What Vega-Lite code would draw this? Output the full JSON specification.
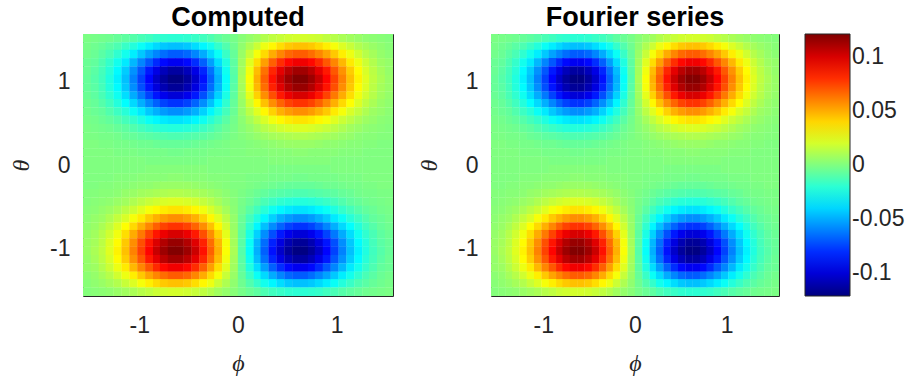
{
"$schema":"https://vega.github.io/schema/vega-lite/v6.json",
"background":"white",
"padding":{"left":9,"top":3,"right":0,"bottom":0},
"datasets":{"g":[
{"x":-1.53,"y":1.52,"v":-0.001},{"x":-1.45,"y":1.52,"v":-0.002},{"x":-1.37,"y":1.52,"v":-0.003},{"x":-1.3,"y":1.52,"v":-0.004},{"x":-1.22,"y":1.52,"v":-0.006},{"x":-1.14,"y":1.52,"v":-0.008},{"x":-1.06,"y":1.52,"v":-0.01},{"x":-0.98,"y":1.52,"v":-0.013},{"x":-0.9,"y":1.52,"v":-0.015},{"x":-0.82,"y":1.52,"v":-0.018},{"x":-0.75,"y":1.52,"v":-0.019},{"x":-0.67,"y":1.52,"v":-0.02},{"x":-0.59,"y":1.52,"v":-0.02},{"x":-0.51,"y":1.52,"v":-0.019},{"x":-0.43,"y":1.52,"v":-0.017},{"x":-0.35,"y":1.52,"v":-0.015},{"x":-0.27,"y":1.52,"v":-0.012},{"x":-0.2,"y":1.52,"v":-0.008},{"x":-0.12,"y":1.52,"v":-0.005},{"x":-0.04,"y":1.52,"v":-0.002},
{"x":0.04,"y":1.52,"v":0.002},{"x":0.12,"y":1.52,"v":0.005},{"x":0.2,"y":1.52,"v":0.008},{"x":0.27,"y":1.52,"v":0.012},{"x":0.35,"y":1.52,"v":0.015},{"x":0.43,"y":1.52,"v":0.017},{"x":0.51,"y":1.52,"v":0.019},{"x":0.59,"y":1.52,"v":0.02},{"x":0.67,"y":1.52,"v":0.02},{"x":0.75,"y":1.52,"v":0.019},{"x":0.82,"y":1.52,"v":0.018},{"x":0.9,"y":1.52,"v":0.015},{"x":0.98,"y":1.52,"v":0.013},{"x":1.06,"y":1.52,"v":0.01},{"x":1.14,"y":1.52,"v":0.008},{"x":1.22,"y":1.52,"v":0.006},{"x":1.3,"y":1.52,"v":0.004},{"x":1.37,"y":1.52,"v":0.003},{"x":1.45,"y":1.52,"v":0.002},{"x":1.53,"y":1.52,"v":0.001},
{"x":-1.53,"y":1.42,"v":-0.002},{"x":-1.45,"y":1.42,"v":-0.004},{"x":-1.37,"y":1.42,"v":-0.006},{"x":-1.3,"y":1.42,"v":-0.009},{"x":-1.22,"y":1.42,"v":-0.012},{"x":-1.14,"y":1.42,"v":-0.017},{"x":-1.06,"y":1.42,"v":-0.022},{"x":-0.98,"y":1.42,"v":-0.028},{"x":-0.9,"y":1.42,"v":-0.034},{"x":-0.82,"y":1.42,"v":-0.039},{"x":-0.75,"y":1.42,"v":-0.043},{"x":-0.67,"y":1.42,"v":-0.045},{"x":-0.59,"y":1.42,"v":-0.045},{"x":-0.51,"y":1.42,"v":-0.043},{"x":-0.43,"y":1.42,"v":-0.038},{"x":-0.35,"y":1.42,"v":-0.032},{"x":-0.27,"y":1.42,"v":-0.026},{"x":-0.2,"y":1.42,"v":-0.018},{"x":-0.12,"y":1.42,"v":-0.011},{"x":-0.04,"y":1.42,"v":-0.004},
{"x":0.04,"y":1.42,"v":0.004},{"x":0.12,"y":1.42,"v":0.011},{"x":0.2,"y":1.42,"v":0.018},{"x":0.27,"y":1.42,"v":0.026},{"x":0.35,"y":1.42,"v":0.032},{"x":0.43,"y":1.42,"v":0.038},{"x":0.51,"y":1.42,"v":0.043},{"x":0.59,"y":1.42,"v":0.045},{"x":0.67,"y":1.42,"v":0.045},{"x":0.75,"y":1.42,"v":0.043},{"x":0.82,"y":1.42,"v":0.039},{"x":0.9,"y":1.42,"v":0.034},{"x":0.98,"y":1.42,"v":0.028},{"x":1.06,"y":1.42,"v":0.022},{"x":1.14,"y":1.42,"v":0.017},{"x":1.22,"y":1.42,"v":0.012},{"x":1.3,"y":1.42,"v":0.009},{"x":1.37,"y":1.42,"v":0.006},{"x":1.45,"y":1.42,"v":0.004},{"x":1.53,"y":1.42,"v":0.002},
{"x":-1.53,"y":1.33,"v":-0.003},{"x":-1.45,"y":1.33,"v":-0.005},{"x":-1.37,"y":1.33,"v":-0.009},{"x":-1.3,"y":1.33,"v":-0.013},{"x":-1.22,"y":1.33,"v":-0.019},{"x":-1.14,"y":1.33,"v":-0.026},{"x":-1.06,"y":1.33,"v":-0.034},{"x":-0.98,"y":1.33,"v":-0.043},{"x":-0.9,"y":1.33,"v":-0.052},{"x":-0.82,"y":1.33,"v":-0.059},{"x":-0.75,"y":1.33,"v":-0.065},{"x":-0.67,"y":1.33,"v":-0.069},{"x":-0.59,"y":1.33,"v":-0.069},{"x":-0.51,"y":1.33,"v":-0.066},{"x":-0.43,"y":1.33,"v":-0.059},{"x":-0.35,"y":1.33,"v":-0.05},{"x":-0.27,"y":1.33,"v":-0.039},{"x":-0.2,"y":1.33,"v":-0.028},{"x":-0.12,"y":1.33,"v":-0.017},{"x":-0.04,"y":1.33,"v":-0.006},
{"x":0.04,"y":1.33,"v":0.006},{"x":0.12,"y":1.33,"v":0.017},{"x":0.2,"y":1.33,"v":0.028},{"x":0.27,"y":1.33,"v":0.039},{"x":0.35,"y":1.33,"v":0.05},{"x":0.43,"y":1.33,"v":0.059},{"x":0.51,"y":1.33,"v":0.066},{"x":0.59,"y":1.33,"v":0.069},{"x":0.67,"y":1.33,"v":0.069},{"x":0.75,"y":1.33,"v":0.065},{"x":0.82,"y":1.33,"v":0.059},{"x":0.9,"y":1.33,"v":0.052},{"x":0.98,"y":1.33,"v":0.043},{"x":1.06,"y":1.33,"v":0.034},{"x":1.14,"y":1.33,"v":0.026},{"x":1.22,"y":1.33,"v":0.019},{"x":1.3,"y":1.33,"v":0.013},{"x":1.37,"y":1.33,"v":0.009},{"x":1.45,"y":1.33,"v":0.005},{"x":1.53,"y":1.33,"v":0.003},
{"x":-1.53,"y":1.23,"v":-0.005},{"x":-1.45,"y":1.23,"v":-0.007},{"x":-1.37,"y":1.23,"v":-0.012},{"x":-1.3,"y":1.23,"v":-0.018},{"x":-1.22,"y":1.23,"v":-0.026},{"x":-1.14,"y":1.23,"v":-0.035},{"x":-1.06,"y":1.23,"v":-0.047},{"x":-0.98,"y":1.23,"v":-0.059},{"x":-0.9,"y":1.23,"v":-0.07},{"x":-0.82,"y":1.23,"v":-0.081},{"x":-0.75,"y":1.23,"v":-0.089},{"x":-0.67,"y":1.23,"v":-0.094},{"x":-0.59,"y":1.23,"v":-0.094},{"x":-0.51,"y":1.23,"v":-0.089},{"x":-0.43,"y":1.23,"v":-0.08},{"x":-0.35,"y":1.23,"v":-0.068},{"x":-0.27,"y":1.23,"v":-0.053},{"x":-0.2,"y":1.23,"v":-0.038},{"x":-0.12,"y":1.23,"v":-0.023},{"x":-0.04,"y":1.23,"v":-0.008},
{"x":0.04,"y":1.23,"v":0.008},{"x":0.12,"y":1.23,"v":0.023},{"x":0.2,"y":1.23,"v":0.038},{"x":0.27,"y":1.23,"v":0.053},{"x":0.35,"y":1.23,"v":0.068},{"x":0.43,"y":1.23,"v":0.08},{"x":0.51,"y":1.23,"v":0.089},{"x":0.59,"y":1.23,"v":0.094},{"x":0.67,"y":1.23,"v":0.094},{"x":0.75,"y":1.23,"v":0.089},{"x":0.82,"y":1.23,"v":0.081},{"x":0.9,"y":1.23,"v":0.07},{"x":0.98,"y":1.23,"v":0.059},{"x":1.06,"y":1.23,"v":0.047},{"x":1.14,"y":1.23,"v":0.035},{"x":1.22,"y":1.23,"v":0.026},{"x":1.3,"y":1.23,"v":0.018},{"x":1.37,"y":1.23,"v":0.012},{"x":1.45,"y":1.23,"v":0.007},{"x":1.53,"y":1.23,"v":0.005},
{"x":-1.53,"y":1.13,"v":-0.005},{"x":-1.45,"y":1.13,"v":-0.009},{"x":-1.37,"y":1.13,"v":-0.014},{"x":-1.3,"y":1.13,"v":-0.021},{"x":-1.22,"y":1.13,"v":-0.031},{"x":-1.14,"y":1.13,"v":-0.042},{"x":-1.06,"y":1.13,"v":-0.056},{"x":-0.98,"y":1.13,"v":-0.07},{"x":-0.9,"y":1.13,"v":-0.085},{"x":-0.82,"y":1.13,"v":-0.097},{"x":-0.75,"y":1.13,"v":-0.107},{"x":-0.67,"y":1.13,"v":-0.113},{"x":-0.59,"y":1.13,"v":-0.113},{"x":-0.51,"y":1.13,"v":-0.107},{"x":-0.43,"y":1.13,"v":-0.097},{"x":-0.35,"y":1.13,"v":-0.082},{"x":-0.27,"y":1.13,"v":-0.064},{"x":-0.2,"y":1.13,"v":-0.046},{"x":-0.12,"y":1.13,"v":-0.027},{"x":-0.04,"y":1.13,"v":-0.009},
{"x":0.04,"y":1.13,"v":0.009},{"x":0.12,"y":1.13,"v":0.027},{"x":0.2,"y":1.13,"v":0.046},{"x":0.27,"y":1.13,"v":0.064},{"x":0.35,"y":1.13,"v":0.082},{"x":0.43,"y":1.13,"v":0.097},{"x":0.51,"y":1.13,"v":0.107},{"x":0.59,"y":1.13,"v":0.113},{"x":0.67,"y":1.13,"v":0.113},{"x":0.75,"y":1.13,"v":0.107},{"x":0.82,"y":1.13,"v":0.097},{"x":0.9,"y":1.13,"v":0.085},{"x":0.98,"y":1.13,"v":0.07},{"x":1.06,"y":1.13,"v":0.056},{"x":1.14,"y":1.13,"v":0.042},{"x":1.22,"y":1.13,"v":0.031},{"x":1.3,"y":1.13,"v":0.021},{"x":1.37,"y":1.13,"v":0.014},{"x":1.45,"y":1.13,"v":0.009},{"x":1.53,"y":1.13,"v":0.005},
{"x":-1.53,"y":1.03,"v":-0.006},{"x":-1.45,"y":1.03,"v":-0.01},{"x":-1.37,"y":1.03,"v":-0.015},{"x":-1.3,"y":1.03,"v":-0.023},{"x":-1.22,"y":1.03,"v":-0.033},{"x":-1.14,"y":1.03,"v":-0.045},{"x":-1.06,"y":1.03,"v":-0.06},{"x":-0.98,"y":1.03,"v":-0.075},{"x":-0.9,"y":1.03,"v":-0.09},{"x":-0.82,"y":1.03,"v":-0.104},{"x":-0.75,"y":1.03,"v":-0.114},{"x":-0.67,"y":1.03,"v":-0.12},{"x":-0.59,"y":1.03,"v":-0.12},{"x":-0.51,"y":1.03,"v":-0.114},{"x":-0.43,"y":1.03,"v":-0.103},{"x":-0.35,"y":1.03,"v":-0.087},{"x":-0.27,"y":1.03,"v":-0.068},{"x":-0.2,"y":1.03,"v":-0.049},{"x":-0.12,"y":1.03,"v":-0.029},{"x":-0.04,"y":1.03,"v":-0.01},
{"x":0.04,"y":1.03,"v":0.01},{"x":0.12,"y":1.03,"v":0.029},{"x":0.2,"y":1.03,"v":0.049},{"x":0.27,"y":1.03,"v":0.068},{"x":0.35,"y":1.03,"v":0.087},{"x":0.43,"y":1.03,"v":0.103},{"x":0.51,"y":1.03,"v":0.114},{"x":0.59,"y":1.03,"v":0.12},{"x":0.67,"y":1.03,"v":0.12},{"x":0.75,"y":1.03,"v":0.114},{"x":0.82,"y":1.03,"v":0.104},{"x":0.9,"y":1.03,"v":0.09},{"x":0.98,"y":1.03,"v":0.075},{"x":1.06,"y":1.03,"v":0.06},{"x":1.14,"y":1.03,"v":0.045},{"x":1.22,"y":1.03,"v":0.033},{"x":1.3,"y":1.03,"v":0.023},{"x":1.37,"y":1.03,"v":0.015},{"x":1.45,"y":1.03,"v":0.01},{"x":1.53,"y":1.03,"v":0.006},
{"x":-1.53,"y":0.93,"v":-0.006},{"x":-1.45,"y":0.93,"v":-0.009},{"x":-1.37,"y":0.93,"v":-0.014},{"x":-1.3,"y":0.93,"v":-0.022},{"x":-1.22,"y":0.93,"v":-0.031},{"x":-1.14,"y":0.93,"v":-0.043},{"x":-1.06,"y":0.93,"v":-0.057},{"x":-0.98,"y":0.93,"v":-0.072},{"x":-0.9,"y":0.93,"v":-0.086},{"x":-0.82,"y":0.93,"v":-0.099},{"x":-0.75,"y":0.93,"v":-0.109},{"x":-0.67,"y":0.93,"v":-0.115},{"x":-0.59,"y":0.93,"v":-0.115},{"x":-0.51,"y":0.93,"v":-0.109},{"x":-0.43,"y":0.93,"v":-0.098},{"x":-0.35,"y":0.93,"v":-0.083},{"x":-0.27,"y":0.93,"v":-0.065},{"x":-0.2,"y":0.93,"v":-0.047},{"x":-0.12,"y":0.93,"v":-0.028},{"x":-0.04,"y":0.93,"v":-0.009},
{"x":0.04,"y":0.93,"v":0.009},{"x":0.12,"y":0.93,"v":0.028},{"x":0.2,"y":0.93,"v":0.047},{"x":0.27,"y":0.93,"v":0.065},{"x":0.35,"y":0.93,"v":0.083},{"x":0.43,"y":0.93,"v":0.098},{"x":0.51,"y":0.93,"v":0.109},{"x":0.59,"y":0.93,"v":0.115},{"x":0.67,"y":0.93,"v":0.115},{"x":0.75,"y":0.93,"v":0.109},{"x":0.82,"y":0.93,"v":0.099},{"x":0.9,"y":0.93,"v":0.086},{"x":0.98,"y":0.93,"v":0.072},{"x":1.06,"y":0.93,"v":0.057},{"x":1.14,"y":0.93,"v":0.043},{"x":1.22,"y":0.93,"v":0.031},{"x":1.3,"y":0.93,"v":0.022},{"x":1.37,"y":0.93,"v":0.014},{"x":1.45,"y":0.93,"v":0.009},{"x":1.53,"y":0.93,"v":0.006},
{"x":-1.53,"y":0.83,"v":-0.005},{"x":-1.45,"y":0.83,"v":-0.008},{"x":-1.37,"y":0.83,"v":-0.013},{"x":-1.3,"y":0.83,"v":-0.019},{"x":-1.22,"y":0.83,"v":-0.027},{"x":-1.14,"y":0.83,"v":-0.038},{"x":-1.06,"y":0.83,"v":-0.05},{"x":-0.98,"y":0.83,"v":-0.062},{"x":-0.9,"y":0.83,"v":-0.075},{"x":-0.82,"y":0.83,"v":-0.086},{"x":-0.75,"y":0.83,"v":-0.095},{"x":-0.67,"y":0.83,"v":-0.1},{"x":-0.59,"y":0.83,"v":-0.1},{"x":-0.51,"y":0.83,"v":-0.095},{"x":-0.43,"y":0.83,"v":-0.085},{"x":-0.35,"y":0.83,"v":-0.072},{"x":-0.27,"y":0.83,"v":-0.057},{"x":-0.2,"y":0.83,"v":-0.041},{"x":-0.12,"y":0.83,"v":-0.024},{"x":-0.04,"y":0.83,"v":-0.008},
{"x":0.04,"y":0.83,"v":0.008},{"x":0.12,"y":0.83,"v":0.024},{"x":0.2,"y":0.83,"v":0.041},{"x":0.27,"y":0.83,"v":0.057},{"x":0.35,"y":0.83,"v":0.072},{"x":0.43,"y":0.83,"v":0.085},{"x":0.51,"y":0.83,"v":0.095},{"x":0.59,"y":0.83,"v":0.1},{"x":0.67,"y":0.83,"v":0.1},{"x":0.75,"y":0.83,"v":0.095},{"x":0.82,"y":0.83,"v":0.086},{"x":0.9,"y":0.83,"v":0.075},{"x":0.98,"y":0.83,"v":0.062},{"x":1.06,"y":0.83,"v":0.05},{"x":1.14,"y":0.83,"v":0.038},{"x":1.22,"y":0.83,"v":0.027},{"x":1.3,"y":0.83,"v":0.019},{"x":1.37,"y":0.83,"v":0.013},{"x":1.45,"y":0.83,"v":0.008},{"x":1.53,"y":0.83,"v":0.005},
{"x":-1.53,"y":0.74,"v":-0.004},{"x":-1.45,"y":0.74,"v":-0.006},{"x":-1.37,"y":0.74,"v":-0.01},{"x":-1.3,"y":0.74,"v":-0.015},{"x":-1.22,"y":0.74,"v":-0.022},{"x":-1.14,"y":0.74,"v":-0.03},{"x":-1.06,"y":0.74,"v":-0.039},{"x":-0.98,"y":0.74,"v":-0.049},{"x":-0.9,"y":0.74,"v":-0.059},{"x":-0.82,"y":0.74,"v":-0.068},{"x":-0.75,"y":0.74,"v":-0.075},{"x":-0.67,"y":0.74,"v":-0.079},{"x":-0.59,"y":0.74,"v":-0.079},{"x":-0.51,"y":0.74,"v":-0.075},{"x":-0.43,"y":0.74,"v":-0.067},{"x":-0.35,"y":0.74,"v":-0.057},{"x":-0.27,"y":0.74,"v":-0.045},{"x":-0.2,"y":0.74,"v":-0.032},{"x":-0.12,"y":0.74,"v":-0.019},{"x":-0.04,"y":0.74,"v":-0.006},
{"x":0.04,"y":0.74,"v":0.006},{"x":0.12,"y":0.74,"v":0.019},{"x":0.2,"y":0.74,"v":0.032},{"x":0.27,"y":0.74,"v":0.045},{"x":0.35,"y":0.74,"v":0.057},{"x":0.43,"y":0.74,"v":0.067},{"x":0.51,"y":0.74,"v":0.075},{"x":0.59,"y":0.74,"v":0.079},{"x":0.67,"y":0.74,"v":0.079},{"x":0.75,"y":0.74,"v":0.075},{"x":0.82,"y":0.74,"v":0.068},{"x":0.9,"y":0.74,"v":0.059},{"x":0.98,"y":0.74,"v":0.049},{"x":1.06,"y":0.74,"v":0.039},{"x":1.14,"y":0.74,"v":0.03},{"x":1.22,"y":0.74,"v":0.022},{"x":1.3,"y":0.74,"v":0.015},{"x":1.37,"y":0.74,"v":0.01},{"x":1.45,"y":0.74,"v":0.006},{"x":1.53,"y":0.74,"v":0.004},
{"x":-1.53,"y":0.64,"v":-0.003},{"x":-1.45,"y":0.64,"v":-0.005},{"x":-1.37,"y":0.64,"v":-0.007},{"x":-1.3,"y":0.64,"v":-0.011},{"x":-1.22,"y":0.64,"v":-0.016},{"x":-1.14,"y":0.64,"v":-0.021},{"x":-1.06,"y":0.64,"v":-0.028},{"x":-0.98,"y":0.64,"v":-0.035},{"x":-0.9,"y":0.64,"v":-0.043},{"x":-0.82,"y":0.64,"v":-0.049},{"x":-0.75,"y":0.64,"v":-0.054},{"x":-0.67,"y":0.64,"v":-0.057},{"x":-0.59,"y":0.64,"v":-0.057},{"x":-0.51,"y":0.64,"v":-0.054},{"x":-0.43,"y":0.64,"v":-0.049},{"x":-0.35,"y":0.64,"v":-0.041},{"x":-0.27,"y":0.64,"v":-0.032},{"x":-0.2,"y":0.64,"v":-0.023},{"x":-0.12,"y":0.64,"v":-0.014},{"x":-0.04,"y":0.64,"v":-0.005},
{"x":0.04,"y":0.64,"v":0.005},{"x":0.12,"y":0.64,"v":0.014},{"x":0.2,"y":0.64,"v":0.023},{"x":0.27,"y":0.64,"v":0.032},{"x":0.35,"y":0.64,"v":0.041},{"x":0.43,"y":0.64,"v":0.049},{"x":0.51,"y":0.64,"v":0.054},{"x":0.59,"y":0.64,"v":0.057},{"x":0.67,"y":0.64,"v":0.057},{"x":0.75,"y":0.64,"v":0.054},{"x":0.82,"y":0.64,"v":0.049},{"x":0.9,"y":0.64,"v":0.043},{"x":0.98,"y":0.64,"v":0.035},{"x":1.06,"y":0.64,"v":0.028},{"x":1.14,"y":0.64,"v":0.021},{"x":1.22,"y":0.64,"v":0.016},{"x":1.3,"y":0.64,"v":0.011},{"x":1.37,"y":0.64,"v":0.007},{"x":1.45,"y":0.64,"v":0.005},{"x":1.53,"y":0.64,"v":0.003},
{"x":-1.53,"y":0.54,"v":-0.002},{"x":-1.45,"y":0.54,"v":-0.003},{"x":-1.37,"y":0.54,"v":-0.005},{"x":-1.3,"y":0.54,"v":-0.007},{"x":-1.22,"y":0.54,"v":-0.01},{"x":-1.14,"y":0.54,"v":-0.014},{"x":-1.06,"y":0.54,"v":-0.018},{"x":-0.98,"y":0.54,"v":-0.023},{"x":-0.9,"y":0.54,"v":-0.028},{"x":-0.82,"y":0.54,"v":-0.032},{"x":-0.75,"y":0.54,"v":-0.035},{"x":-0.67,"y":0.54,"v":-0.037},{"x":-0.59,"y":0.54,"v":-0.037},{"x":-0.51,"y":0.54,"v":-0.035},{"x":-0.43,"y":0.54,"v":-0.032},{"x":-0.35,"y":0.54,"v":-0.027},{"x":-0.27,"y":0.54,"v":-0.021},{"x":-0.2,"y":0.54,"v":-0.015},{"x":-0.12,"y":0.54,"v":-0.009},{"x":-0.04,"y":0.54,"v":-0.003},
{"x":0.04,"y":0.54,"v":0.003},{"x":0.12,"y":0.54,"v":0.009},{"x":0.2,"y":0.54,"v":0.015},{"x":0.27,"y":0.54,"v":0.021},{"x":0.35,"y":0.54,"v":0.027},{"x":0.43,"y":0.54,"v":0.032},{"x":0.51,"y":0.54,"v":0.035},{"x":0.59,"y":0.54,"v":0.037},{"x":0.67,"y":0.54,"v":0.037},{"x":0.75,"y":0.54,"v":0.035},{"x":0.82,"y":0.54,"v":0.032},{"x":0.9,"y":0.54,"v":0.028},{"x":0.98,"y":0.54,"v":0.023},{"x":1.06,"y":0.54,"v":0.018},{"x":1.14,"y":0.54,"v":0.014},{"x":1.22,"y":0.54,"v":0.01},{"x":1.3,"y":0.54,"v":0.007},{"x":1.37,"y":0.54,"v":0.005},{"x":1.45,"y":0.54,"v":0.003},{"x":1.53,"y":0.54,"v":0.002},
{"x":-1.53,"y":0.44,"v":-0.001},{"x":-1.45,"y":0.44,"v":-0.002},{"x":-1.37,"y":0.44,"v":-0.003},{"x":-1.3,"y":0.44,"v":-0.004},{"x":-1.22,"y":0.44,"v":-0.006},{"x":-1.14,"y":0.44,"v":-0.008},{"x":-1.06,"y":0.44,"v":-0.011},{"x":-0.98,"y":0.44,"v":-0.014},{"x":-0.9,"y":0.44,"v":-0.017},{"x":-0.82,"y":0.44,"v":-0.019},{"x":-0.75,"y":0.44,"v":-0.021},{"x":-0.67,"y":0.44,"v":-0.022},{"x":-0.59,"y":0.44,"v":-0.022},{"x":-0.51,"y":0.44,"v":-0.021},{"x":-0.43,"y":0.44,"v":-0.019},{"x":-0.35,"y":0.44,"v":-0.016},{"x":-0.27,"y":0.44,"v":-0.013},{"x":-0.2,"y":0.44,"v":-0.009},{"x":-0.12,"y":0.44,"v":-0.005},{"x":-0.04,"y":0.44,"v":-0.002},
{"x":0.04,"y":0.44,"v":0.002},{"x":0.12,"y":0.44,"v":0.005},{"x":0.2,"y":0.44,"v":0.009},{"x":0.27,"y":0.44,"v":0.013},{"x":0.35,"y":0.44,"v":0.016},{"x":0.43,"y":0.44,"v":0.019},{"x":0.51,"y":0.44,"v":0.021},{"x":0.59,"y":0.44,"v":0.022},{"x":0.67,"y":0.44,"v":0.022},{"x":0.75,"y":0.44,"v":0.021},{"x":0.82,"y":0.44,"v":0.019},{"x":0.9,"y":0.44,"v":0.017},{"x":0.98,"y":0.44,"v":0.014},{"x":1.06,"y":0.44,"v":0.011},{"x":1.14,"y":0.44,"v":0.008},{"x":1.22,"y":0.44,"v":0.006},{"x":1.3,"y":0.44,"v":0.004},{"x":1.37,"y":0.44,"v":0.003},{"x":1.45,"y":0.44,"v":0.002},{"x":1.53,"y":0.44,"v":0.001},
{"x":-1.53,"y":0.34,"v":-0.001},{"x":-1.45,"y":0.34,"v":-0.001},{"x":-1.37,"y":0.34,"v":-0.002},{"x":-1.3,"y":0.34,"v":-0.002},{"x":-1.22,"y":0.34,"v":-0.003},{"x":-1.14,"y":0.34,"v":-0.005},{"x":-1.06,"y":0.34,"v":-0.006},{"x":-0.98,"y":0.34,"v":-0.008},{"x":-0.9,"y":0.34,"v":-0.009},{"x":-0.82,"y":0.34,"v":-0.01},{"x":-0.75,"y":0.34,"v":-0.011},{"x":-0.67,"y":0.34,"v":-0.012},{"x":-0.59,"y":0.34,"v":-0.012},{"x":-0.51,"y":0.34,"v":-0.011},{"x":-0.43,"y":0.34,"v":-0.01},{"x":-0.35,"y":0.34,"v":-0.009},{"x":-0.27,"y":0.34,"v":-0.007},{"x":-0.2,"y":0.34,"v":-0.005},{"x":-0.12,"y":0.34,"v":-0.003},{"x":-0.04,"y":0.34,"v":-0.001},
{"x":0.04,"y":0.34,"v":0.001},{"x":0.12,"y":0.34,"v":0.003},{"x":0.2,"y":0.34,"v":0.005},{"x":0.27,"y":0.34,"v":0.007},{"x":0.35,"y":0.34,"v":0.009},{"x":0.43,"y":0.34,"v":0.01},{"x":0.51,"y":0.34,"v":0.011},{"x":0.59,"y":0.34,"v":0.012},{"x":0.67,"y":0.34,"v":0.012},{"x":0.75,"y":0.34,"v":0.011},{"x":0.82,"y":0.34,"v":0.01},{"x":0.9,"y":0.34,"v":0.009},{"x":0.98,"y":0.34,"v":0.008},{"x":1.06,"y":0.34,"v":0.006},{"x":1.14,"y":0.34,"v":0.005},{"x":1.22,"y":0.34,"v":0.003},{"x":1.3,"y":0.34,"v":0.002},{"x":1.37,"y":0.34,"v":0.002},{"x":1.45,"y":0.34,"v":0.001},{"x":1.53,"y":0.34,"v":0.001},
{"x":-1.53,"y":0.25,"v":0},{"x":-1.45,"y":0.25,"v":0},{"x":-1.37,"y":0.25,"v":-0.001},{"x":-1.3,"y":0.25,"v":-0.001},{"x":-1.22,"y":0.25,"v":-0.002},{"x":-1.14,"y":0.25,"v":-0.002},{"x":-1.06,"y":0.25,"v":-0.003},{"x":-0.98,"y":0.25,"v":-0.004},{"x":-0.9,"y":0.25,"v":-0.004},{"x":-0.82,"y":0.25,"v":-0.005},{"x":-0.75,"y":0.25,"v":-0.006},{"x":-0.67,"y":0.25,"v":-0.006},{"x":-0.59,"y":0.25,"v":-0.006},{"x":-0.51,"y":0.25,"v":-0.006},{"x":-0.43,"y":0.25,"v":-0.005},{"x":-0.35,"y":0.25,"v":-0.004},{"x":-0.27,"y":0.25,"v":-0.003},{"x":-0.2,"y":0.25,"v":-0.002},{"x":-0.12,"y":0.25,"v":-0.001},{"x":-0.04,"y":0.25,"v":0},
{"x":0.04,"y":0.25,"v":0},{"x":0.12,"y":0.25,"v":0.001},{"x":0.2,"y":0.25,"v":0.002},{"x":0.27,"y":0.25,"v":0.003},{"x":0.35,"y":0.25,"v":0.004},{"x":0.43,"y":0.25,"v":0.005},{"x":0.51,"y":0.25,"v":0.006},{"x":0.59,"y":0.25,"v":0.006},{"x":0.67,"y":0.25,"v":0.006},{"x":0.75,"y":0.25,"v":0.006},{"x":0.82,"y":0.25,"v":0.005},{"x":0.9,"y":0.25,"v":0.004},{"x":0.98,"y":0.25,"v":0.004},{"x":1.06,"y":0.25,"v":0.003},{"x":1.14,"y":0.25,"v":0.002},{"x":1.22,"y":0.25,"v":0.002},{"x":1.3,"y":0.25,"v":0.001},{"x":1.37,"y":0.25,"v":0.001},{"x":1.45,"y":0.25,"v":0},{"x":1.53,"y":0.25,"v":0},
{"x":-1.53,"y":0.15,"v":0},{"x":-1.45,"y":0.15,"v":0},{"x":-1.37,"y":0.15,"v":0},{"x":-1.3,"y":0.15,"v":0},{"x":-1.22,"y":0.15,"v":-0.001},{"x":-1.14,"y":0.15,"v":-0.001},{"x":-1.06,"y":0.15,"v":-0.001},{"x":-0.98,"y":0.15,"v":-0.002},{"x":-0.9,"y":0.15,"v":-0.002},{"x":-0.82,"y":0.15,"v":-0.002},{"x":-0.75,"y":0.15,"v":-0.002},{"x":-0.67,"y":0.15,"v":-0.003},{"x":-0.59,"y":0.15,"v":-0.003},{"x":-0.51,"y":0.15,"v":-0.002},{"x":-0.43,"y":0.15,"v":-0.002},{"x":-0.35,"y":0.15,"v":-0.002},{"x":-0.27,"y":0.15,"v":-0.001},{"x":-0.2,"y":0.15,"v":-0.001},{"x":-0.12,"y":0.15,"v":-0.001},{"x":-0.04,"y":0.15,"v":0},
{"x":0.04,"y":0.15,"v":0},{"x":0.12,"y":0.15,"v":0.001},{"x":0.2,"y":0.15,"v":0.001},{"x":0.27,"y":0.15,"v":0.001},{"x":0.35,"y":0.15,"v":0.002},{"x":0.43,"y":0.15,"v":0.002},{"x":0.51,"y":0.15,"v":0.002},{"x":0.59,"y":0.15,"v":0.003},{"x":0.67,"y":0.15,"v":0.003},{"x":0.75,"y":0.15,"v":0.002},{"x":0.82,"y":0.15,"v":0.002},{"x":0.9,"y":0.15,"v":0.002},{"x":0.98,"y":0.15,"v":0.002},{"x":1.06,"y":0.15,"v":0.001},{"x":1.14,"y":0.15,"v":0.001},{"x":1.22,"y":0.15,"v":0.001},{"x":1.3,"y":0.15,"v":0},{"x":1.37,"y":0.15,"v":0},{"x":1.45,"y":0.15,"v":0},{"x":1.53,"y":0.15,"v":0},
{"x":-1.53,"y":0.05,"v":0},{"x":-1.45,"y":0.05,"v":0},{"x":-1.37,"y":0.05,"v":0},{"x":-1.3,"y":0.05,"v":0},{"x":-1.22,"y":0.05,"v":0},{"x":-1.14,"y":0.05,"v":0},{"x":-1.06,"y":0.05,"v":0},{"x":-0.98,"y":0.05,"v":0},{"x":-0.9,"y":0.05,"v":-0.001},{"x":-0.82,"y":0.05,"v":-0.001},{"x":-0.75,"y":0.05,"v":-0.001},{"x":-0.67,"y":0.05,"v":-0.001},{"x":-0.59,"y":0.05,"v":-0.001},{"x":-0.51,"y":0.05,"v":-0.001},{"x":-0.43,"y":0.05,"v":-0.001},{"x":-0.35,"y":0.05,"v":-0.001},{"x":-0.27,"y":0.05,"v":0},{"x":-0.2,"y":0.05,"v":0},{"x":-0.12,"y":0.05,"v":0},{"x":-0.04,"y":0.05,"v":0},
{"x":0.04,"y":0.05,"v":0},{"x":0.12,"y":0.05,"v":0},{"x":0.2,"y":0.05,"v":0},{"x":0.27,"y":0.05,"v":0},{"x":0.35,"y":0.05,"v":0.001},{"x":0.43,"y":0.05,"v":0.001},{"x":0.51,"y":0.05,"v":0.001},{"x":0.59,"y":0.05,"v":0.001},{"x":0.67,"y":0.05,"v":0.001},{"x":0.75,"y":0.05,"v":0.001},{"x":0.82,"y":0.05,"v":0.001},{"x":0.9,"y":0.05,"v":0.001},{"x":0.98,"y":0.05,"v":0},{"x":1.06,"y":0.05,"v":0},{"x":1.14,"y":0.05,"v":0},{"x":1.22,"y":0.05,"v":0},{"x":1.3,"y":0.05,"v":0},{"x":1.37,"y":0.05,"v":0},{"x":1.45,"y":0.05,"v":0},{"x":1.53,"y":0.05,"v":0},
{"x":-1.53,"y":-0.05,"v":0},{"x":-1.45,"y":-0.05,"v":0},{"x":-1.37,"y":-0.05,"v":0},{"x":-1.3,"y":-0.05,"v":0},{"x":-1.22,"y":-0.05,"v":0},{"x":-1.14,"y":-0.05,"v":0},{"x":-1.06,"y":-0.05,"v":0},{"x":-0.98,"y":-0.05,"v":0},{"x":-0.9,"y":-0.05,"v":0.001},{"x":-0.82,"y":-0.05,"v":0.001},{"x":-0.75,"y":-0.05,"v":0.001},{"x":-0.67,"y":-0.05,"v":0.001},{"x":-0.59,"y":-0.05,"v":0.001},{"x":-0.51,"y":-0.05,"v":0.001},{"x":-0.43,"y":-0.05,"v":0.001},{"x":-0.35,"y":-0.05,"v":0.001},{"x":-0.27,"y":-0.05,"v":0},{"x":-0.2,"y":-0.05,"v":0},{"x":-0.12,"y":-0.05,"v":0},{"x":-0.04,"y":-0.05,"v":0},
{"x":0.04,"y":-0.05,"v":0},{"x":0.12,"y":-0.05,"v":0},{"x":0.2,"y":-0.05,"v":0},{"x":0.27,"y":-0.05,"v":0},{"x":0.35,"y":-0.05,"v":-0.001},{"x":0.43,"y":-0.05,"v":-0.001},{"x":0.51,"y":-0.05,"v":-0.001},{"x":0.59,"y":-0.05,"v":-0.001},{"x":0.67,"y":-0.05,"v":-0.001},{"x":0.75,"y":-0.05,"v":-0.001},{"x":0.82,"y":-0.05,"v":-0.001},{"x":0.9,"y":-0.05,"v":-0.001},{"x":0.98,"y":-0.05,"v":0},{"x":1.06,"y":-0.05,"v":0},{"x":1.14,"y":-0.05,"v":0},{"x":1.22,"y":-0.05,"v":0},{"x":1.3,"y":-0.05,"v":0},{"x":1.37,"y":-0.05,"v":0},{"x":1.45,"y":-0.05,"v":0},{"x":1.53,"y":-0.05,"v":0},
{"x":-1.53,"y":-0.15,"v":0},{"x":-1.45,"y":-0.15,"v":0},{"x":-1.37,"y":-0.15,"v":0},{"x":-1.3,"y":-0.15,"v":0},{"x":-1.22,"y":-0.15,"v":0.001},{"x":-1.14,"y":-0.15,"v":0.001},{"x":-1.06,"y":-0.15,"v":0.001},{"x":-0.98,"y":-0.15,"v":0.002},{"x":-0.9,"y":-0.15,"v":0.002},{"x":-0.82,"y":-0.15,"v":0.002},{"x":-0.75,"y":-0.15,"v":0.002},{"x":-0.67,"y":-0.15,"v":0.003},{"x":-0.59,"y":-0.15,"v":0.003},{"x":-0.51,"y":-0.15,"v":0.002},{"x":-0.43,"y":-0.15,"v":0.002},{"x":-0.35,"y":-0.15,"v":0.002},{"x":-0.27,"y":-0.15,"v":0.001},{"x":-0.2,"y":-0.15,"v":0.001},{"x":-0.12,"y":-0.15,"v":0.001},{"x":-0.04,"y":-0.15,"v":0},
{"x":0.04,"y":-0.15,"v":0},{"x":0.12,"y":-0.15,"v":-0.001},{"x":0.2,"y":-0.15,"v":-0.001},{"x":0.27,"y":-0.15,"v":-0.001},{"x":0.35,"y":-0.15,"v":-0.002},{"x":0.43,"y":-0.15,"v":-0.002},{"x":0.51,"y":-0.15,"v":-0.002},{"x":0.59,"y":-0.15,"v":-0.003},{"x":0.67,"y":-0.15,"v":-0.003},{"x":0.75,"y":-0.15,"v":-0.002},{"x":0.82,"y":-0.15,"v":-0.002},{"x":0.9,"y":-0.15,"v":-0.002},{"x":0.98,"y":-0.15,"v":-0.002},{"x":1.06,"y":-0.15,"v":-0.001},{"x":1.14,"y":-0.15,"v":-0.001},{"x":1.22,"y":-0.15,"v":-0.001},{"x":1.3,"y":-0.15,"v":0},{"x":1.37,"y":-0.15,"v":0},{"x":1.45,"y":-0.15,"v":0},{"x":1.53,"y":-0.15,"v":0},
{"x":-1.53,"y":-0.25,"v":0},{"x":-1.45,"y":-0.25,"v":0},{"x":-1.37,"y":-0.25,"v":0.001},{"x":-1.3,"y":-0.25,"v":0.001},{"x":-1.22,"y":-0.25,"v":0.002},{"x":-1.14,"y":-0.25,"v":0.002},{"x":-1.06,"y":-0.25,"v":0.003},{"x":-0.98,"y":-0.25,"v":0.004},{"x":-0.9,"y":-0.25,"v":0.004},{"x":-0.82,"y":-0.25,"v":0.005},{"x":-0.75,"y":-0.25,"v":0.006},{"x":-0.67,"y":-0.25,"v":0.006},{"x":-0.59,"y":-0.25,"v":0.006},{"x":-0.51,"y":-0.25,"v":0.006},{"x":-0.43,"y":-0.25,"v":0.005},{"x":-0.35,"y":-0.25,"v":0.004},{"x":-0.27,"y":-0.25,"v":0.003},{"x":-0.2,"y":-0.25,"v":0.002},{"x":-0.12,"y":-0.25,"v":0.001},{"x":-0.04,"y":-0.25,"v":0},
{"x":0.04,"y":-0.25,"v":0},{"x":0.12,"y":-0.25,"v":-0.001},{"x":0.2,"y":-0.25,"v":-0.002},{"x":0.27,"y":-0.25,"v":-0.003},{"x":0.35,"y":-0.25,"v":-0.004},{"x":0.43,"y":-0.25,"v":-0.005},{"x":0.51,"y":-0.25,"v":-0.006},{"x":0.59,"y":-0.25,"v":-0.006},{"x":0.67,"y":-0.25,"v":-0.006},{"x":0.75,"y":-0.25,"v":-0.006},{"x":0.82,"y":-0.25,"v":-0.005},{"x":0.9,"y":-0.25,"v":-0.004},{"x":0.98,"y":-0.25,"v":-0.004},{"x":1.06,"y":-0.25,"v":-0.003},{"x":1.14,"y":-0.25,"v":-0.002},{"x":1.22,"y":-0.25,"v":-0.002},{"x":1.3,"y":-0.25,"v":-0.001},{"x":1.37,"y":-0.25,"v":-0.001},{"x":1.45,"y":-0.25,"v":0},{"x":1.53,"y":-0.25,"v":0},
{"x":-1.53,"y":-0.34,"v":0.001},{"x":-1.45,"y":-0.34,"v":0.001},{"x":-1.37,"y":-0.34,"v":0.002},{"x":-1.3,"y":-0.34,"v":0.002},{"x":-1.22,"y":-0.34,"v":0.003},{"x":-1.14,"y":-0.34,"v":0.005},{"x":-1.06,"y":-0.34,"v":0.006},{"x":-0.98,"y":-0.34,"v":0.008},{"x":-0.9,"y":-0.34,"v":0.009},{"x":-0.82,"y":-0.34,"v":0.01},{"x":-0.75,"y":-0.34,"v":0.011},{"x":-0.67,"y":-0.34,"v":0.012},{"x":-0.59,"y":-0.34,"v":0.012},{"x":-0.51,"y":-0.34,"v":0.011},{"x":-0.43,"y":-0.34,"v":0.01},{"x":-0.35,"y":-0.34,"v":0.009},{"x":-0.27,"y":-0.34,"v":0.007},{"x":-0.2,"y":-0.34,"v":0.005},{"x":-0.12,"y":-0.34,"v":0.003},{"x":-0.04,"y":-0.34,"v":0.001},
{"x":0.04,"y":-0.34,"v":-0.001},{"x":0.12,"y":-0.34,"v":-0.003},{"x":0.2,"y":-0.34,"v":-0.005},{"x":0.27,"y":-0.34,"v":-0.007},{"x":0.35,"y":-0.34,"v":-0.009},{"x":0.43,"y":-0.34,"v":-0.01},{"x":0.51,"y":-0.34,"v":-0.011},{"x":0.59,"y":-0.34,"v":-0.012},{"x":0.67,"y":-0.34,"v":-0.012},{"x":0.75,"y":-0.34,"v":-0.011},{"x":0.82,"y":-0.34,"v":-0.01},{"x":0.9,"y":-0.34,"v":-0.009},{"x":0.98,"y":-0.34,"v":-0.008},{"x":1.06,"y":-0.34,"v":-0.006},{"x":1.14,"y":-0.34,"v":-0.005},{"x":1.22,"y":-0.34,"v":-0.003},{"x":1.3,"y":-0.34,"v":-0.002},{"x":1.37,"y":-0.34,"v":-0.002},{"x":1.45,"y":-0.34,"v":-0.001},{"x":1.53,"y":-0.34,"v":-0.001},
{"x":-1.53,"y":-0.44,"v":0.001},{"x":-1.45,"y":-0.44,"v":0.002},{"x":-1.37,"y":-0.44,"v":0.003},{"x":-1.3,"y":-0.44,"v":0.004},{"x":-1.22,"y":-0.44,"v":0.006},{"x":-1.14,"y":-0.44,"v":0.008},{"x":-1.06,"y":-0.44,"v":0.011},{"x":-0.98,"y":-0.44,"v":0.014},{"x":-0.9,"y":-0.44,"v":0.017},{"x":-0.82,"y":-0.44,"v":0.019},{"x":-0.75,"y":-0.44,"v":0.021},{"x":-0.67,"y":-0.44,"v":0.022},{"x":-0.59,"y":-0.44,"v":0.022},{"x":-0.51,"y":-0.44,"v":0.021},{"x":-0.43,"y":-0.44,"v":0.019},{"x":-0.35,"y":-0.44,"v":0.016},{"x":-0.27,"y":-0.44,"v":0.013},{"x":-0.2,"y":-0.44,"v":0.009},{"x":-0.12,"y":-0.44,"v":0.005},{"x":-0.04,"y":-0.44,"v":0.002},
{"x":0.04,"y":-0.44,"v":-0.002},{"x":0.12,"y":-0.44,"v":-0.005},{"x":0.2,"y":-0.44,"v":-0.009},{"x":0.27,"y":-0.44,"v":-0.013},{"x":0.35,"y":-0.44,"v":-0.016},{"x":0.43,"y":-0.44,"v":-0.019},{"x":0.51,"y":-0.44,"v":-0.021},{"x":0.59,"y":-0.44,"v":-0.022},{"x":0.67,"y":-0.44,"v":-0.022},{"x":0.75,"y":-0.44,"v":-0.021},{"x":0.82,"y":-0.44,"v":-0.019},{"x":0.9,"y":-0.44,"v":-0.017},{"x":0.98,"y":-0.44,"v":-0.014},{"x":1.06,"y":-0.44,"v":-0.011},{"x":1.14,"y":-0.44,"v":-0.008},{"x":1.22,"y":-0.44,"v":-0.006},{"x":1.3,"y":-0.44,"v":-0.004},{"x":1.37,"y":-0.44,"v":-0.003},{"x":1.45,"y":-0.44,"v":-0.002},{"x":1.53,"y":-0.44,"v":-0.001},
{"x":-1.53,"y":-0.54,"v":0.002},{"x":-1.45,"y":-0.54,"v":0.003},{"x":-1.37,"y":-0.54,"v":0.005},{"x":-1.3,"y":-0.54,"v":0.007},{"x":-1.22,"y":-0.54,"v":0.01},{"x":-1.14,"y":-0.54,"v":0.014},{"x":-1.06,"y":-0.54,"v":0.018},{"x":-0.98,"y":-0.54,"v":0.023},{"x":-0.9,"y":-0.54,"v":0.028},{"x":-0.82,"y":-0.54,"v":0.032},{"x":-0.75,"y":-0.54,"v":0.035},{"x":-0.67,"y":-0.54,"v":0.037},{"x":-0.59,"y":-0.54,"v":0.037},{"x":-0.51,"y":-0.54,"v":0.035},{"x":-0.43,"y":-0.54,"v":0.032},{"x":-0.35,"y":-0.54,"v":0.027},{"x":-0.27,"y":-0.54,"v":0.021},{"x":-0.2,"y":-0.54,"v":0.015},{"x":-0.12,"y":-0.54,"v":0.009},{"x":-0.04,"y":-0.54,"v":0.003},
{"x":0.04,"y":-0.54,"v":-0.003},{"x":0.12,"y":-0.54,"v":-0.009},{"x":0.2,"y":-0.54,"v":-0.015},{"x":0.27,"y":-0.54,"v":-0.021},{"x":0.35,"y":-0.54,"v":-0.027},{"x":0.43,"y":-0.54,"v":-0.032},{"x":0.51,"y":-0.54,"v":-0.035},{"x":0.59,"y":-0.54,"v":-0.037},{"x":0.67,"y":-0.54,"v":-0.037},{"x":0.75,"y":-0.54,"v":-0.035},{"x":0.82,"y":-0.54,"v":-0.032},{"x":0.9,"y":-0.54,"v":-0.028},{"x":0.98,"y":-0.54,"v":-0.023},{"x":1.06,"y":-0.54,"v":-0.018},{"x":1.14,"y":-0.54,"v":-0.014},{"x":1.22,"y":-0.54,"v":-0.01},{"x":1.3,"y":-0.54,"v":-0.007},{"x":1.37,"y":-0.54,"v":-0.005},{"x":1.45,"y":-0.54,"v":-0.003},{"x":1.53,"y":-0.54,"v":-0.002},
{"x":-1.53,"y":-0.64,"v":0.003},{"x":-1.45,"y":-0.64,"v":0.005},{"x":-1.37,"y":-0.64,"v":0.007},{"x":-1.3,"y":-0.64,"v":0.011},{"x":-1.22,"y":-0.64,"v":0.016},{"x":-1.14,"y":-0.64,"v":0.021},{"x":-1.06,"y":-0.64,"v":0.028},{"x":-0.98,"y":-0.64,"v":0.035},{"x":-0.9,"y":-0.64,"v":0.043},{"x":-0.82,"y":-0.64,"v":0.049},{"x":-0.75,"y":-0.64,"v":0.054},{"x":-0.67,"y":-0.64,"v":0.057},{"x":-0.59,"y":-0.64,"v":0.057},{"x":-0.51,"y":-0.64,"v":0.054},{"x":-0.43,"y":-0.64,"v":0.049},{"x":-0.35,"y":-0.64,"v":0.041},{"x":-0.27,"y":-0.64,"v":0.032},{"x":-0.2,"y":-0.64,"v":0.023},{"x":-0.12,"y":-0.64,"v":0.014},{"x":-0.04,"y":-0.64,"v":0.005},
{"x":0.04,"y":-0.64,"v":-0.005},{"x":0.12,"y":-0.64,"v":-0.014},{"x":0.2,"y":-0.64,"v":-0.023},{"x":0.27,"y":-0.64,"v":-0.032},{"x":0.35,"y":-0.64,"v":-0.041},{"x":0.43,"y":-0.64,"v":-0.049},{"x":0.51,"y":-0.64,"v":-0.054},{"x":0.59,"y":-0.64,"v":-0.057},{"x":0.67,"y":-0.64,"v":-0.057},{"x":0.75,"y":-0.64,"v":-0.054},{"x":0.82,"y":-0.64,"v":-0.049},{"x":0.9,"y":-0.64,"v":-0.043},{"x":0.98,"y":-0.64,"v":-0.035},{"x":1.06,"y":-0.64,"v":-0.028},{"x":1.14,"y":-0.64,"v":-0.021},{"x":1.22,"y":-0.64,"v":-0.016},{"x":1.3,"y":-0.64,"v":-0.011},{"x":1.37,"y":-0.64,"v":-0.007},{"x":1.45,"y":-0.64,"v":-0.005},{"x":1.53,"y":-0.64,"v":-0.003},
{"x":-1.53,"y":-0.74,"v":0.004},{"x":-1.45,"y":-0.74,"v":0.006},{"x":-1.37,"y":-0.74,"v":0.01},{"x":-1.3,"y":-0.74,"v":0.015},{"x":-1.22,"y":-0.74,"v":0.022},{"x":-1.14,"y":-0.74,"v":0.03},{"x":-1.06,"y":-0.74,"v":0.039},{"x":-0.98,"y":-0.74,"v":0.049},{"x":-0.9,"y":-0.74,"v":0.059},{"x":-0.82,"y":-0.74,"v":0.068},{"x":-0.75,"y":-0.74,"v":0.075},{"x":-0.67,"y":-0.74,"v":0.079},{"x":-0.59,"y":-0.74,"v":0.079},{"x":-0.51,"y":-0.74,"v":0.075},{"x":-0.43,"y":-0.74,"v":0.067},{"x":-0.35,"y":-0.74,"v":0.057},{"x":-0.27,"y":-0.74,"v":0.045},{"x":-0.2,"y":-0.74,"v":0.032},{"x":-0.12,"y":-0.74,"v":0.019},{"x":-0.04,"y":-0.74,"v":0.006},
{"x":0.04,"y":-0.74,"v":-0.006},{"x":0.12,"y":-0.74,"v":-0.019},{"x":0.2,"y":-0.74,"v":-0.032},{"x":0.27,"y":-0.74,"v":-0.045},{"x":0.35,"y":-0.74,"v":-0.057},{"x":0.43,"y":-0.74,"v":-0.067},{"x":0.51,"y":-0.74,"v":-0.075},{"x":0.59,"y":-0.74,"v":-0.079},{"x":0.67,"y":-0.74,"v":-0.079},{"x":0.75,"y":-0.74,"v":-0.075},{"x":0.82,"y":-0.74,"v":-0.068},{"x":0.9,"y":-0.74,"v":-0.059},{"x":0.98,"y":-0.74,"v":-0.049},{"x":1.06,"y":-0.74,"v":-0.039},{"x":1.14,"y":-0.74,"v":-0.03},{"x":1.22,"y":-0.74,"v":-0.022},{"x":1.3,"y":-0.74,"v":-0.015},{"x":1.37,"y":-0.74,"v":-0.01},{"x":1.45,"y":-0.74,"v":-0.006},{"x":1.53,"y":-0.74,"v":-0.004},
{"x":-1.53,"y":-0.83,"v":0.005},{"x":-1.45,"y":-0.83,"v":0.008},{"x":-1.37,"y":-0.83,"v":0.013},{"x":-1.3,"y":-0.83,"v":0.019},{"x":-1.22,"y":-0.83,"v":0.027},{"x":-1.14,"y":-0.83,"v":0.038},{"x":-1.06,"y":-0.83,"v":0.05},{"x":-0.98,"y":-0.83,"v":0.062},{"x":-0.9,"y":-0.83,"v":0.075},{"x":-0.82,"y":-0.83,"v":0.086},{"x":-0.75,"y":-0.83,"v":0.095},{"x":-0.67,"y":-0.83,"v":0.1},{"x":-0.59,"y":-0.83,"v":0.1},{"x":-0.51,"y":-0.83,"v":0.095},{"x":-0.43,"y":-0.83,"v":0.085},{"x":-0.35,"y":-0.83,"v":0.072},{"x":-0.27,"y":-0.83,"v":0.057},{"x":-0.2,"y":-0.83,"v":0.041},{"x":-0.12,"y":-0.83,"v":0.024},{"x":-0.04,"y":-0.83,"v":0.008},
{"x":0.04,"y":-0.83,"v":-0.008},{"x":0.12,"y":-0.83,"v":-0.024},{"x":0.2,"y":-0.83,"v":-0.041},{"x":0.27,"y":-0.83,"v":-0.057},{"x":0.35,"y":-0.83,"v":-0.072},{"x":0.43,"y":-0.83,"v":-0.085},{"x":0.51,"y":-0.83,"v":-0.095},{"x":0.59,"y":-0.83,"v":-0.1},{"x":0.67,"y":-0.83,"v":-0.1},{"x":0.75,"y":-0.83,"v":-0.095},{"x":0.82,"y":-0.83,"v":-0.086},{"x":0.9,"y":-0.83,"v":-0.075},{"x":0.98,"y":-0.83,"v":-0.062},{"x":1.06,"y":-0.83,"v":-0.05},{"x":1.14,"y":-0.83,"v":-0.038},{"x":1.22,"y":-0.83,"v":-0.027},{"x":1.3,"y":-0.83,"v":-0.019},{"x":1.37,"y":-0.83,"v":-0.013},{"x":1.45,"y":-0.83,"v":-0.008},{"x":1.53,"y":-0.83,"v":-0.005},
{"x":-1.53,"y":-0.93,"v":0.006},{"x":-1.45,"y":-0.93,"v":0.009},{"x":-1.37,"y":-0.93,"v":0.014},{"x":-1.3,"y":-0.93,"v":0.022},{"x":-1.22,"y":-0.93,"v":0.031},{"x":-1.14,"y":-0.93,"v":0.043},{"x":-1.06,"y":-0.93,"v":0.057},{"x":-0.98,"y":-0.93,"v":0.072},{"x":-0.9,"y":-0.93,"v":0.086},{"x":-0.82,"y":-0.93,"v":0.099},{"x":-0.75,"y":-0.93,"v":0.109},{"x":-0.67,"y":-0.93,"v":0.115},{"x":-0.59,"y":-0.93,"v":0.115},{"x":-0.51,"y":-0.93,"v":0.109},{"x":-0.43,"y":-0.93,"v":0.098},{"x":-0.35,"y":-0.93,"v":0.083},{"x":-0.27,"y":-0.93,"v":0.065},{"x":-0.2,"y":-0.93,"v":0.047},{"x":-0.12,"y":-0.93,"v":0.028},{"x":-0.04,"y":-0.93,"v":0.009},
{"x":0.04,"y":-0.93,"v":-0.009},{"x":0.12,"y":-0.93,"v":-0.028},{"x":0.2,"y":-0.93,"v":-0.047},{"x":0.27,"y":-0.93,"v":-0.065},{"x":0.35,"y":-0.93,"v":-0.083},{"x":0.43,"y":-0.93,"v":-0.098},{"x":0.51,"y":-0.93,"v":-0.109},{"x":0.59,"y":-0.93,"v":-0.115},{"x":0.67,"y":-0.93,"v":-0.115},{"x":0.75,"y":-0.93,"v":-0.109},{"x":0.82,"y":-0.93,"v":-0.099},{"x":0.9,"y":-0.93,"v":-0.086},{"x":0.98,"y":-0.93,"v":-0.072},{"x":1.06,"y":-0.93,"v":-0.057},{"x":1.14,"y":-0.93,"v":-0.043},{"x":1.22,"y":-0.93,"v":-0.031},{"x":1.3,"y":-0.93,"v":-0.022},{"x":1.37,"y":-0.93,"v":-0.014},{"x":1.45,"y":-0.93,"v":-0.009},{"x":1.53,"y":-0.93,"v":-0.006},
{"x":-1.53,"y":-1.03,"v":0.006},{"x":-1.45,"y":-1.03,"v":0.01},{"x":-1.37,"y":-1.03,"v":0.015},{"x":-1.3,"y":-1.03,"v":0.023},{"x":-1.22,"y":-1.03,"v":0.033},{"x":-1.14,"y":-1.03,"v":0.045},{"x":-1.06,"y":-1.03,"v":0.06},{"x":-0.98,"y":-1.03,"v":0.075},{"x":-0.9,"y":-1.03,"v":0.09},{"x":-0.82,"y":-1.03,"v":0.104},{"x":-0.75,"y":-1.03,"v":0.114},{"x":-0.67,"y":-1.03,"v":0.12},{"x":-0.59,"y":-1.03,"v":0.12},{"x":-0.51,"y":-1.03,"v":0.114},{"x":-0.43,"y":-1.03,"v":0.103},{"x":-0.35,"y":-1.03,"v":0.087},{"x":-0.27,"y":-1.03,"v":0.068},{"x":-0.2,"y":-1.03,"v":0.049},{"x":-0.12,"y":-1.03,"v":0.029},{"x":-0.04,"y":-1.03,"v":0.01},
{"x":0.04,"y":-1.03,"v":-0.01},{"x":0.12,"y":-1.03,"v":-0.029},{"x":0.2,"y":-1.03,"v":-0.049},{"x":0.27,"y":-1.03,"v":-0.068},{"x":0.35,"y":-1.03,"v":-0.087},{"x":0.43,"y":-1.03,"v":-0.103},{"x":0.51,"y":-1.03,"v":-0.114},{"x":0.59,"y":-1.03,"v":-0.12},{"x":0.67,"y":-1.03,"v":-0.12},{"x":0.75,"y":-1.03,"v":-0.114},{"x":0.82,"y":-1.03,"v":-0.104},{"x":0.9,"y":-1.03,"v":-0.09},{"x":0.98,"y":-1.03,"v":-0.075},{"x":1.06,"y":-1.03,"v":-0.06},{"x":1.14,"y":-1.03,"v":-0.045},{"x":1.22,"y":-1.03,"v":-0.033},{"x":1.3,"y":-1.03,"v":-0.023},{"x":1.37,"y":-1.03,"v":-0.015},{"x":1.45,"y":-1.03,"v":-0.01},{"x":1.53,"y":-1.03,"v":-0.006},
{"x":-1.53,"y":-1.13,"v":0.005},{"x":-1.45,"y":-1.13,"v":0.009},{"x":-1.37,"y":-1.13,"v":0.014},{"x":-1.3,"y":-1.13,"v":0.021},{"x":-1.22,"y":-1.13,"v":0.031},{"x":-1.14,"y":-1.13,"v":0.042},{"x":-1.06,"y":-1.13,"v":0.056},{"x":-0.98,"y":-1.13,"v":0.07},{"x":-0.9,"y":-1.13,"v":0.085},{"x":-0.82,"y":-1.13,"v":0.097},{"x":-0.75,"y":-1.13,"v":0.107},{"x":-0.67,"y":-1.13,"v":0.113},{"x":-0.59,"y":-1.13,"v":0.113},{"x":-0.51,"y":-1.13,"v":0.107},{"x":-0.43,"y":-1.13,"v":0.097},{"x":-0.35,"y":-1.13,"v":0.082},{"x":-0.27,"y":-1.13,"v":0.064},{"x":-0.2,"y":-1.13,"v":0.046},{"x":-0.12,"y":-1.13,"v":0.027},{"x":-0.04,"y":-1.13,"v":0.009},
{"x":0.04,"y":-1.13,"v":-0.009},{"x":0.12,"y":-1.13,"v":-0.027},{"x":0.2,"y":-1.13,"v":-0.046},{"x":0.27,"y":-1.13,"v":-0.064},{"x":0.35,"y":-1.13,"v":-0.082},{"x":0.43,"y":-1.13,"v":-0.097},{"x":0.51,"y":-1.13,"v":-0.107},{"x":0.59,"y":-1.13,"v":-0.113},{"x":0.67,"y":-1.13,"v":-0.113},{"x":0.75,"y":-1.13,"v":-0.107},{"x":0.82,"y":-1.13,"v":-0.097},{"x":0.9,"y":-1.13,"v":-0.085},{"x":0.98,"y":-1.13,"v":-0.07},{"x":1.06,"y":-1.13,"v":-0.056},{"x":1.14,"y":-1.13,"v":-0.042},{"x":1.22,"y":-1.13,"v":-0.031},{"x":1.3,"y":-1.13,"v":-0.021},{"x":1.37,"y":-1.13,"v":-0.014},{"x":1.45,"y":-1.13,"v":-0.009},{"x":1.53,"y":-1.13,"v":-0.005},
{"x":-1.53,"y":-1.23,"v":0.005},{"x":-1.45,"y":-1.23,"v":0.007},{"x":-1.37,"y":-1.23,"v":0.012},{"x":-1.3,"y":-1.23,"v":0.018},{"x":-1.22,"y":-1.23,"v":0.026},{"x":-1.14,"y":-1.23,"v":0.035},{"x":-1.06,"y":-1.23,"v":0.047},{"x":-0.98,"y":-1.23,"v":0.059},{"x":-0.9,"y":-1.23,"v":0.07},{"x":-0.82,"y":-1.23,"v":0.081},{"x":-0.75,"y":-1.23,"v":0.089},{"x":-0.67,"y":-1.23,"v":0.094},{"x":-0.59,"y":-1.23,"v":0.094},{"x":-0.51,"y":-1.23,"v":0.089},{"x":-0.43,"y":-1.23,"v":0.08},{"x":-0.35,"y":-1.23,"v":0.068},{"x":-0.27,"y":-1.23,"v":0.053},{"x":-0.2,"y":-1.23,"v":0.038},{"x":-0.12,"y":-1.23,"v":0.023},{"x":-0.04,"y":-1.23,"v":0.008},
{"x":0.04,"y":-1.23,"v":-0.008},{"x":0.12,"y":-1.23,"v":-0.023},{"x":0.2,"y":-1.23,"v":-0.038},{"x":0.27,"y":-1.23,"v":-0.053},{"x":0.35,"y":-1.23,"v":-0.068},{"x":0.43,"y":-1.23,"v":-0.08},{"x":0.51,"y":-1.23,"v":-0.089},{"x":0.59,"y":-1.23,"v":-0.094},{"x":0.67,"y":-1.23,"v":-0.094},{"x":0.75,"y":-1.23,"v":-0.089},{"x":0.82,"y":-1.23,"v":-0.081},{"x":0.9,"y":-1.23,"v":-0.07},{"x":0.98,"y":-1.23,"v":-0.059},{"x":1.06,"y":-1.23,"v":-0.047},{"x":1.14,"y":-1.23,"v":-0.035},{"x":1.22,"y":-1.23,"v":-0.026},{"x":1.3,"y":-1.23,"v":-0.018},{"x":1.37,"y":-1.23,"v":-0.012},{"x":1.45,"y":-1.23,"v":-0.007},{"x":1.53,"y":-1.23,"v":-0.005},
{"x":-1.53,"y":-1.33,"v":0.003},{"x":-1.45,"y":-1.33,"v":0.005},{"x":-1.37,"y":-1.33,"v":0.009},{"x":-1.3,"y":-1.33,"v":0.013},{"x":-1.22,"y":-1.33,"v":0.019},{"x":-1.14,"y":-1.33,"v":0.026},{"x":-1.06,"y":-1.33,"v":0.034},{"x":-0.98,"y":-1.33,"v":0.043},{"x":-0.9,"y":-1.33,"v":0.052},{"x":-0.82,"y":-1.33,"v":0.059},{"x":-0.75,"y":-1.33,"v":0.065},{"x":-0.67,"y":-1.33,"v":0.069},{"x":-0.59,"y":-1.33,"v":0.069},{"x":-0.51,"y":-1.33,"v":0.066},{"x":-0.43,"y":-1.33,"v":0.059},{"x":-0.35,"y":-1.33,"v":0.05},{"x":-0.27,"y":-1.33,"v":0.039},{"x":-0.2,"y":-1.33,"v":0.028},{"x":-0.12,"y":-1.33,"v":0.017},{"x":-0.04,"y":-1.33,"v":0.006},
{"x":0.04,"y":-1.33,"v":-0.006},{"x":0.12,"y":-1.33,"v":-0.017},{"x":0.2,"y":-1.33,"v":-0.028},{"x":0.27,"y":-1.33,"v":-0.039},{"x":0.35,"y":-1.33,"v":-0.05},{"x":0.43,"y":-1.33,"v":-0.059},{"x":0.51,"y":-1.33,"v":-0.066},{"x":0.59,"y":-1.33,"v":-0.069},{"x":0.67,"y":-1.33,"v":-0.069},{"x":0.75,"y":-1.33,"v":-0.065},{"x":0.82,"y":-1.33,"v":-0.059},{"x":0.9,"y":-1.33,"v":-0.052},{"x":0.98,"y":-1.33,"v":-0.043},{"x":1.06,"y":-1.33,"v":-0.034},{"x":1.14,"y":-1.33,"v":-0.026},{"x":1.22,"y":-1.33,"v":-0.019},{"x":1.3,"y":-1.33,"v":-0.013},{"x":1.37,"y":-1.33,"v":-0.009},{"x":1.45,"y":-1.33,"v":-0.005},{"x":1.53,"y":-1.33,"v":-0.003},
{"x":-1.53,"y":-1.42,"v":0.002},{"x":-1.45,"y":-1.42,"v":0.004},{"x":-1.37,"y":-1.42,"v":0.006},{"x":-1.3,"y":-1.42,"v":0.009},{"x":-1.22,"y":-1.42,"v":0.012},{"x":-1.14,"y":-1.42,"v":0.017},{"x":-1.06,"y":-1.42,"v":0.022},{"x":-0.98,"y":-1.42,"v":0.028},{"x":-0.9,"y":-1.42,"v":0.034},{"x":-0.82,"y":-1.42,"v":0.039},{"x":-0.75,"y":-1.42,"v":0.043},{"x":-0.67,"y":-1.42,"v":0.045},{"x":-0.59,"y":-1.42,"v":0.045},{"x":-0.51,"y":-1.42,"v":0.043},{"x":-0.43,"y":-1.42,"v":0.038},{"x":-0.35,"y":-1.42,"v":0.032},{"x":-0.27,"y":-1.42,"v":0.026},{"x":-0.2,"y":-1.42,"v":0.018},{"x":-0.12,"y":-1.42,"v":0.011},{"x":-0.04,"y":-1.42,"v":0.004},
{"x":0.04,"y":-1.42,"v":-0.004},{"x":0.12,"y":-1.42,"v":-0.011},{"x":0.2,"y":-1.42,"v":-0.018},{"x":0.27,"y":-1.42,"v":-0.026},{"x":0.35,"y":-1.42,"v":-0.032},{"x":0.43,"y":-1.42,"v":-0.038},{"x":0.51,"y":-1.42,"v":-0.043},{"x":0.59,"y":-1.42,"v":-0.045},{"x":0.67,"y":-1.42,"v":-0.045},{"x":0.75,"y":-1.42,"v":-0.043},{"x":0.82,"y":-1.42,"v":-0.039},{"x":0.9,"y":-1.42,"v":-0.034},{"x":0.98,"y":-1.42,"v":-0.028},{"x":1.06,"y":-1.42,"v":-0.022},{"x":1.14,"y":-1.42,"v":-0.017},{"x":1.22,"y":-1.42,"v":-0.012},{"x":1.3,"y":-1.42,"v":-0.009},{"x":1.37,"y":-1.42,"v":-0.006},{"x":1.45,"y":-1.42,"v":-0.004},{"x":1.53,"y":-1.42,"v":-0.002},
{"x":-1.53,"y":-1.52,"v":0.001},{"x":-1.45,"y":-1.52,"v":0.002},{"x":-1.37,"y":-1.52,"v":0.003},{"x":-1.3,"y":-1.52,"v":0.004},{"x":-1.22,"y":-1.52,"v":0.006},{"x":-1.14,"y":-1.52,"v":0.008},{"x":-1.06,"y":-1.52,"v":0.01},{"x":-0.98,"y":-1.52,"v":0.013},{"x":-0.9,"y":-1.52,"v":0.015},{"x":-0.82,"y":-1.52,"v":0.018},{"x":-0.75,"y":-1.52,"v":0.019},{"x":-0.67,"y":-1.52,"v":0.02},{"x":-0.59,"y":-1.52,"v":0.02},{"x":-0.51,"y":-1.52,"v":0.019},{"x":-0.43,"y":-1.52,"v":0.017},{"x":-0.35,"y":-1.52,"v":0.015},{"x":-0.27,"y":-1.52,"v":0.012},{"x":-0.2,"y":-1.52,"v":0.008},{"x":-0.12,"y":-1.52,"v":0.005},{"x":-0.04,"y":-1.52,"v":0.002},
{"x":0.04,"y":-1.52,"v":-0.002},{"x":0.12,"y":-1.52,"v":-0.005},{"x":0.2,"y":-1.52,"v":-0.008},{"x":0.27,"y":-1.52,"v":-0.012},{"x":0.35,"y":-1.52,"v":-0.015},{"x":0.43,"y":-1.52,"v":-0.017},{"x":0.51,"y":-1.52,"v":-0.019},{"x":0.59,"y":-1.52,"v":-0.02},{"x":0.67,"y":-1.52,"v":-0.02},{"x":0.75,"y":-1.52,"v":-0.019},{"x":0.82,"y":-1.52,"v":-0.018},{"x":0.9,"y":-1.52,"v":-0.015},{"x":0.98,"y":-1.52,"v":-0.013},{"x":1.06,"y":-1.52,"v":-0.01},{"x":1.14,"y":-1.52,"v":-0.008},{"x":1.22,"y":-1.52,"v":-0.006},{"x":1.3,"y":-1.52,"v":-0.004},{"x":1.37,"y":-1.52,"v":-0.003},{"x":1.45,"y":-1.52,"v":-0.002},{"x":1.53,"y":-1.52,"v":-0.001}
]},
"hconcat":[
{"title":"Computed","width":310,"height":262,"data":{"name":"g"},
 "mark":{"type":"rect","width":8.2,"height":8.6,"strokeWidth":0,"clip":true},
 "encoding":{
  "x":{"field":"x","type":"quantitative","scale":{"domain":[-1.5708,1.5708],"nice":false,"zero":false},"axis":{"values":[-1,0,1],"title":"ϕ","labelExpr":"datum.value"}},
  "y":{"field":"y","type":"quantitative","scale":{"domain":[-1.5708,1.5708],"nice":false,"zero":false},"axis":{"values":[-1,0,1],"title":"θ","labelExpr":"datum.value"}},
  "color":{"field":"v","type":"quantitative","scale":{"domain":[-0.121,-0.09075,-0.03025,0.03025,0.09075,0.121],"range":["#00007F","#0000FF","#00FFFF","#FFFF00","#FF0000","#7F0000"],"interpolate":"rgb"},
   "legend":{"title":null,"values":[-0.1,-0.05,0,0.05,0.1],"labelExpr":"datum.value","orient":"right","offset":25,"gradientLength":262,"gradientThickness":45,"direction":"vertical"}}
 }},
{"title":"Fourier series","width":288,"height":262,"data":{"name":"g"},
 "mark":{"type":"rect","width":7.6,"height":8.6,"strokeWidth":0,"clip":true},
 "encoding":{
  "x":{"field":"x","type":"quantitative","scale":{"domain":[-1.5708,1.5708],"nice":false,"zero":false},"axis":{"values":[-1,0,1],"title":"ϕ","labelExpr":"datum.value"}},
  "y":{"field":"y","type":"quantitative","scale":{"domain":[-1.5708,1.5708],"nice":false,"zero":false},"axis":{"values":[-1,0,1],"title":"θ","labelExpr":"datum.value"}},
  "color":{"field":"v","type":"quantitative","scale":{"domain":[-0.121,-0.09075,-0.03025,0.03025,0.09075,0.121],"range":["#00007F","#0000FF","#00FFFF","#FFFF00","#FF0000","#7F0000"],"interpolate":"rgb"},
   "legend":{"title":null,"values":[-0.1,-0.05,0,0.05,0.1],"labelExpr":"datum.value","orient":"right","offset":25,"gradientLength":262,"gradientThickness":45,"direction":"vertical"}}
 }}
],
"spacing":23,
"resolve":{"scale":{"color":"shared","x":"independent","y":"independent"}},
"config":{
 "font":"Liberation Sans",
 "view":{"stroke":"#262626","strokeWidth":1},
 "axis":{"domain":false,"ticks":false,"grid":false,"labelFont":"Liberation Sans","labelFontSize":23,"labelColor":"#262626","titleFont":"Liberation Serif","titleFontStyle":"italic","titleFontWeight":"normal","titleFontSize":24,"titleColor":"#262626"},
 "axisX":{"labelPadding":18,"titlePadding":14},
 "axisY":{"labelPadding":13,"titlePadding":16},
 "title":{"font":"Liberation Sans","fontSize":27,"fontWeight":"bold","color":"#000000","offset":2},
 "legend":{"labelFont":"Liberation Sans","labelFontSize":23,"labelColor":"#262626","labelOffset":9,"gradientStrokeColor":"#262626","gradientStrokeWidth":1,"padding":0,"labelOverlap":false}
}
}
